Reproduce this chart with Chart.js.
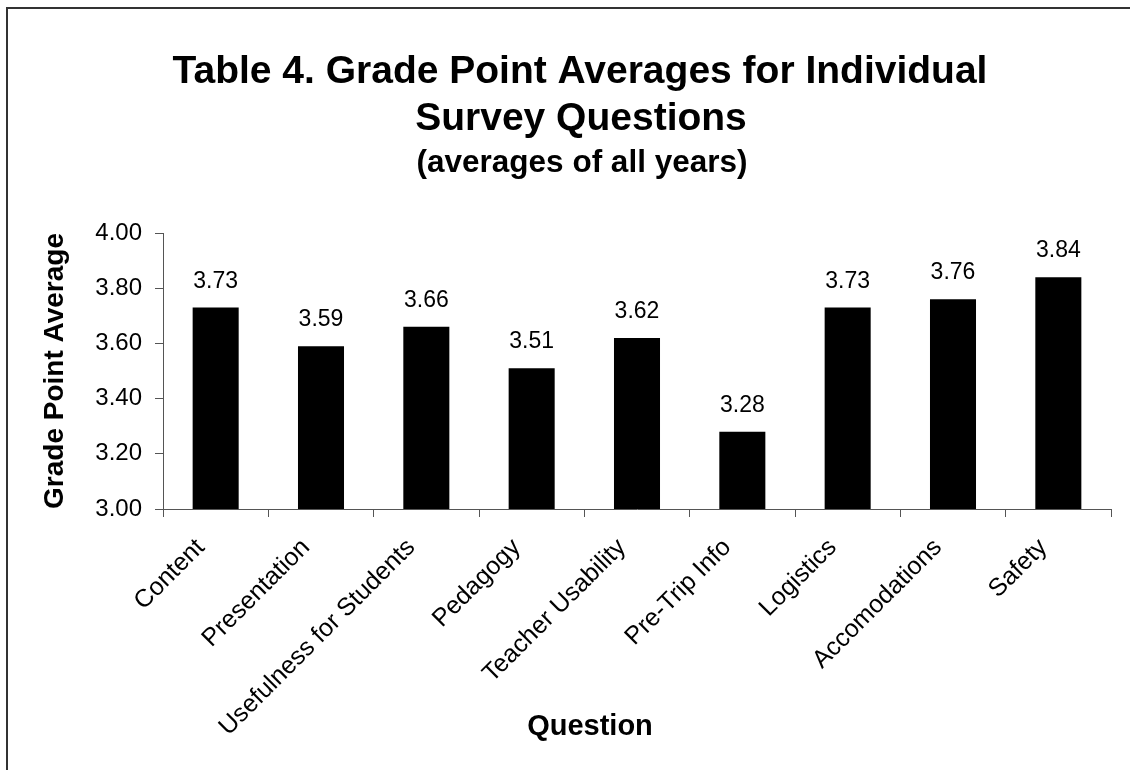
<!doctype html>
<html>

<head>
	<title>Grade Point Averages for Individual Survey Questions</title>
	<script src="https://cdn.jsdelivr.net/npm/chart.js@4.4.1/dist/chart.umd.min.js"></script>
	<style>
		html, body { margin: 0; padding: 0; background: #fff; }
		#chart-area { display: block; }
	</style>
</head>

<body>
	<canvas id="chart-area" width="1130" height="770"></canvas>

	<script>
		var questions = ['Content', 'Presentation', 'Usefulness for Students', 'Pedagogy',
			'Teacher Usability', 'Pre-Trip Info', 'Logistics', 'Accomodations', 'Safety'];
		var gpa = [3.73, 3.59, 3.66, 3.51, 3.62, 3.28, 3.73, 3.76, 3.84];
		var titleLines = ['Table 4. Grade Point Averages for Individual', 'Survey Questions'];
		var subtitleText = '(averages of all years)';
		var xTitle = 'Question';
		var yTitle = 'Grade Point Average';

		var FONT = 'Arial, "Liberation Sans", sans-serif';

		// frame line along the top and left edge
		var framePlugin = {
			id: 'frame',
			beforeDraw: function(chart) {
				var ctx = chart.ctx;
				ctx.save();
				ctx.strokeStyle = '#333';
				ctx.lineWidth = 2;
				ctx.beginPath();
				ctx.moveTo(7, chart.height);
				ctx.lineTo(7, 8);
				ctx.lineTo(chart.width, 8);
				ctx.stroke();
				ctx.restore();
			}
		};

		// headings and the x axis caption, placed like the original sheet chart
		var captionsPlugin = {
			id: 'captions',
			afterDraw: function(chart) {
				var ctx = chart.ctx;
				ctx.save();
				ctx.fillStyle = '#000';
				ctx.textAlign = 'center';
				ctx.textBaseline = 'alphabetic';
				ctx.font = 'bold 39px ' + FONT;
				ctx.fillText(titleLines[0], 580, 83);
				ctx.fillText(titleLines[1], 581, 130);
				ctx.font = 'bold 31.5px ' + FONT;
				ctx.fillText(subtitleText, 582, 172);
				ctx.font = 'bold 29px ' + FONT;
				ctx.fillText(xTitle, 590, 735);
				ctx.restore();
			}
		};

		// value printed above each bar
		var valueLabels = {
			id: 'valueLabels',
			afterDatasetsDraw: function(chart) {
				var ctx = chart.ctx;
				var meta = chart.getDatasetMeta(0);
				ctx.save();
				ctx.fillStyle = '#000';
				ctx.font = '23px ' + FONT;
				ctx.textAlign = 'center';
				ctx.textBaseline = 'alphabetic';
				meta.data.forEach(function(bar, i) {
					ctx.fillText(gpa[i].toFixed(2), bar.x, bar.y - 20);
				});
				ctx.restore();
			}
		};

		var ctx = document.getElementById('chart-area').getContext('2d');
		window.gpaChart = new Chart(ctx, {
			type: 'bar',
			data: {
				labels: questions,
				datasets: [{
					data: gpa,
					backgroundColor: '#000',
					borderWidth: 0,
					categoryPercentage: 1,
					barPercentage: 0.437
				}]
			},
			options: {
				responsive: false,
				animation: false,
				layout: {
					padding: { top: 233, right: 19, bottom: 0, left: 0 }
				},
				plugins: {
					legend: { display: false },
					title: { display: false },
					tooltip: { enabled: false }
				},
				scales: {
					x: {
						grid: {
							drawOnChartArea: false,
							drawTicks: true,
							tickLength: 8,
							color: '#555',
							offset: true
						},
						border: { color: '#555', width: 1 },
						ticks: {
							color: '#000',
							font: { family: FONT, size: 25 },
							minRotation: 45,
							maxRotation: 45,
							autoSkip: false,
							padding: 16,
							labelOffset: -15
						},
						afterFit: function(scale) { scale.height = 261; }
					},
					y: {
						min: 3,
						max: 4,
						grid: {
							drawOnChartArea: false,
							drawTicks: true,
							tickLength: 8,
							color: '#555'
						},
						border: { color: '#555', width: 1 },
						ticks: {
							stepSize: 0.2,
							color: '#000',
							font: { family: FONT, size: 24 },
							padding: 13,
							callback: function(v) { return Number(v).toFixed(2); }
						},
						title: {
							display: true,
							text: yTitle,
							color: '#000',
							font: { family: FONT, size: 28, weight: 'bold', lineHeight: 1.2 },
							padding: { top: 38, bottom: 0 }
						},
						afterFit: function(scale) { scale.width = 163; }
					}
				}
			},
			plugins: [framePlugin, captionsPlugin, valueLabels]
		});
	</script>
</body>

</html>
